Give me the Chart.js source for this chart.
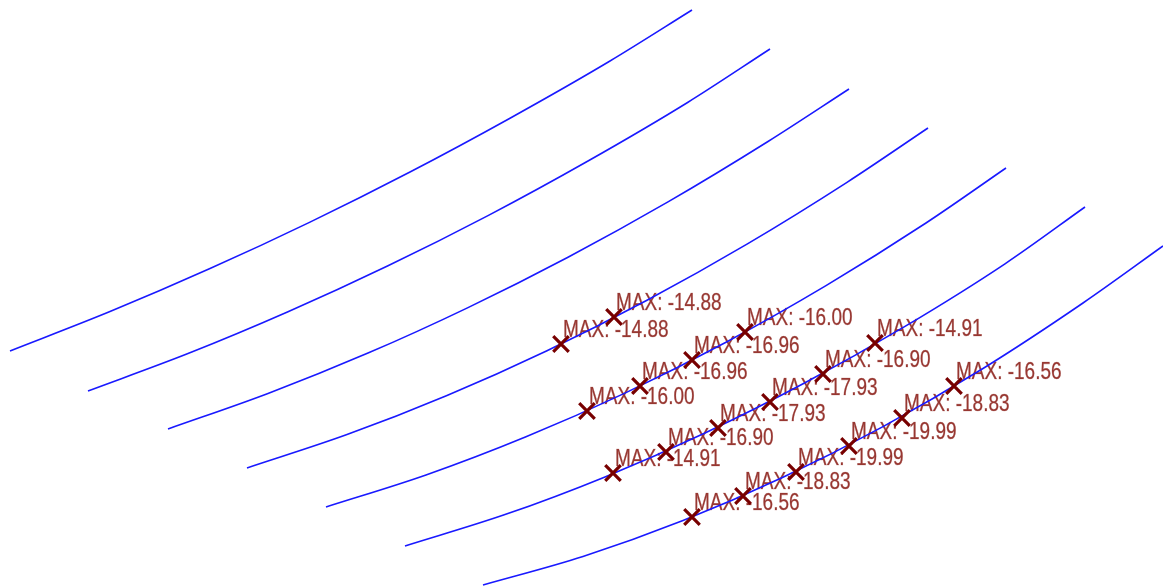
<!DOCTYPE html>
<html>
<head>
<meta charset="utf-8">
<title>MAX curves</title>
<script src="https://cdn.jsdelivr.net/npm/chart.js@4.4.0/dist/chart.umd.min.js"></script>
<style>
    html, body { margin: 0; padding: 0; background: #ffffff; }
    #wrap { width: 1163px; height: 586px; position: relative; }
</style>
</head>
<body>
<div id="wrap"><canvas id="curveChart"></canvas></div>
<script>
// Curve points (x to the right, y downward)
const curve1 = [[10, 351], [110, 311.6], [210, 268.6], [310, 222.1], [410, 172], [510, 118.2], [610, 61], [692, 10]];
const curve2 = [[88, 391], [188, 353.6], [288, 311.8], [388, 265.8], [488, 215.6], [588, 161], [688, 102.2], [770, 49]];
const curve3 = [[168, 429], [268, 393.5], [368, 353.1], [468, 307.6], [568, 257.2], [668, 201.9], [768, 141.5], [849, 89]];
const curve4 = [[247, 468], [347, 434.6], [447, 395.5], [547, 350.7], [647, 300.2], [747, 244.1], [847, 182.3], [928, 128]];
const curve5 = [[326, 507], [426, 475], [526, 436.8], [626, 392.6], [726, 342.2], [826, 285.6], [926, 223], [1006, 168]];
const curve6 = [[405, 546], [505, 514.6], [605, 476.9], [705, 433], [805, 382.8], [905, 326.4], [1005, 263.8], [1085, 207]];
const curve7 = [[483, 585], [583, 556.5], [683, 520.6], [783, 477.3], [883, 426.6], [983, 368.5], [1083, 303], [1163, 246]];

// Maximum markers and their values
const markerX = [561, 614, 587, 640, 692, 745, 613, 666, 718, 770, 823, 875, 692, 743, 796, 849, 902, 954];
const markerY = [344, 317, 411, 386, 360, 332, 473, 452, 428, 402, 374, 343, 517, 496, 472, 446, 418, 386];
const maxValues = [-14.88, -14.88, -16.00, -16.96, -16.96, -16.00, -14.91, -16.90, -17.93, -17.93, -16.90, -14.91,
    -16.56, -18.83, -19.99, -19.99, -18.83, -16.56];

const curves = [curve1, curve2, curve3, curve4, curve5, curve6, curve7];

function toPoints(list) {
    return list.map(p => ({ x: p[0], y: p[1] }));
}

// Draw the "MAX: ..." texts under the curves and markers
const maxLabels = {
    id: 'maxLabels',
    beforeDatasetsDraw(chart) {
        const ctx = chart.ctx;
        const xs = chart.scales.x;
        const ys = chart.scales.y;
        ctx.save();
        ctx.fillStyle = '#983832';
        ctx.strokeStyle = 'rgba(152, 56, 50, 0.45)';
        ctx.lineWidth = 0.5;
        ctx.font = '19px "Liberation Sans", Arial, sans-serif';
        ctx.textBaseline = 'alphabetic';
        maxValues.forEach(function(v, i) {
            const px = xs.getPixelForValue(markerX[i]);
            const py = ys.getPixelForValue(markerY[i]);
            const text = 'MAX: ' + v.toFixed(2);
            ctx.save();
            ctx.translate(px + 2, py - 7.5);
            ctx.scale(1, 1.26);
            ctx.fillText(text, 0, 0);
            ctx.strokeText(text, 0, 0);
            ctx.restore();
        });
        ctx.restore();
    }
};

const datasets = [{
    label: 'max',
    data: markerX.map((x, i) => ({ x: x, y: markerY[i] })),
    showLine: false,
    pointStyle: 'crossRot',
    pointRadius: 11,
    pointBorderWidth: 3.2,
    pointBorderColor: '#780000',
    pointBackgroundColor: '#780000',
    order: 0
}];

curves.forEach(function(c, i) {
    datasets.push({
        label: 'curve ' + (i + 1),
        data: toPoints(c),
        showLine: true,
        borderColor: 'rgb(25, 25, 255)',
        borderWidth: 1.6,
        pointRadius: 0,
        cubicInterpolationMode: 'monotone',
        order: 1
    });
});

const ctx = document.getElementById('curveChart').getContext('2d');
const curveChart = new Chart(ctx, {
    type: 'scatter',
    data: { datasets: datasets },
    options: {
        responsive: true,
        maintainAspectRatio: false,
        animation: false,
        layout: { padding: 0, autoPadding: false },
        scales: {
            x: { type: 'linear', min: 0, max: 1163, display: false },
            y: { type: 'linear', min: 0, max: 586, reverse: true, display: false }
        },
        plugins: {
            legend: { display: false },
            tooltip: { enabled: false }
        }
    },
    plugins: [maxLabels]
});
</script>
</body>
</html>
